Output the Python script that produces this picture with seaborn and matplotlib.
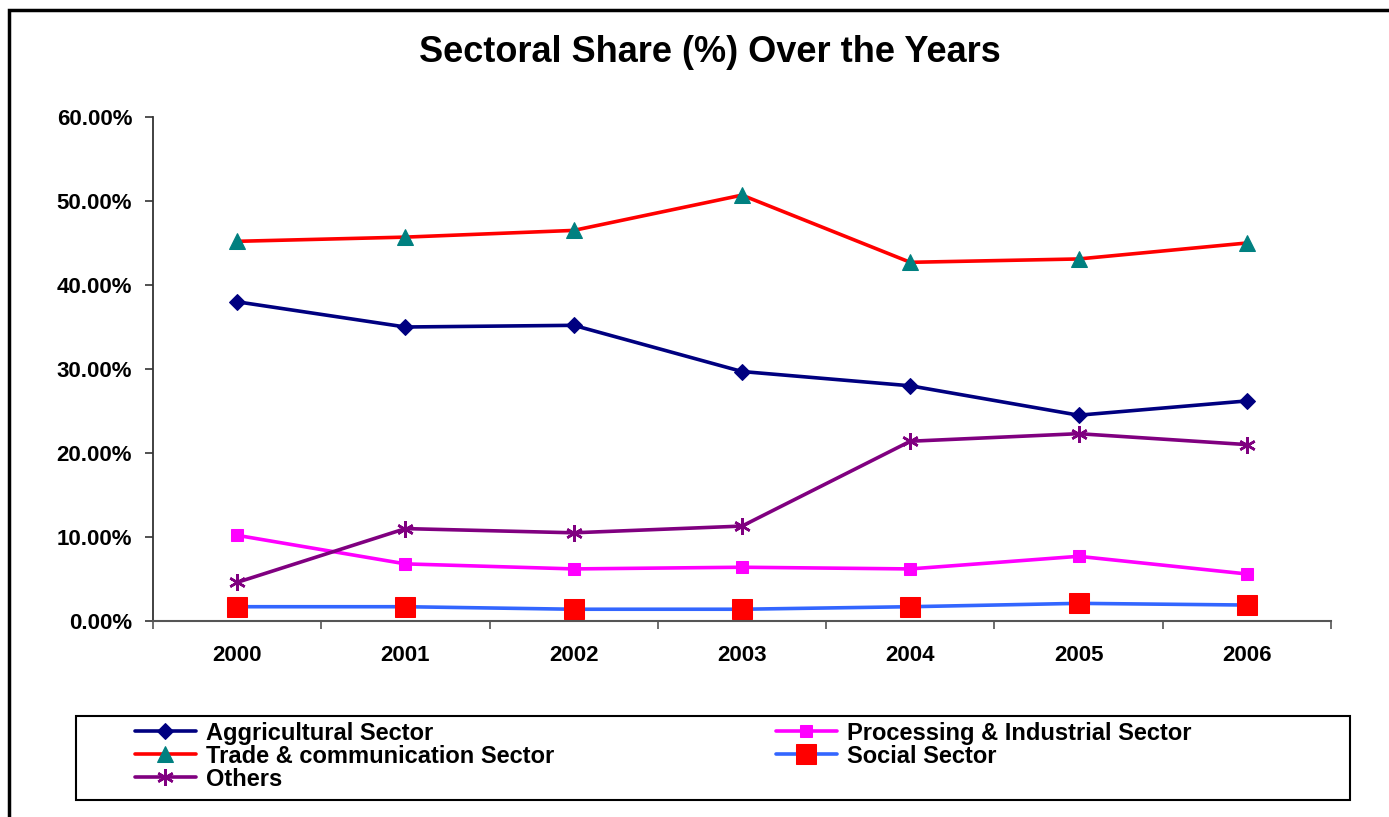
import seaborn as sns
import numpy as np
import matplotlib.pyplot as plt
from matplotlib.ticker import PercentFormatter, FixedLocator, NullFormatter
from matplotlib.patches import Rectangle

years = [2000, 2001, 2002, 2003, 2004, 2005, 2006]
agri = [38.0, 35.0, 35.2, 29.7, 28.0, 24.5, 26.2]
processing = [10.2, 6.8, 6.2, 6.4, 6.2, 7.7, 5.6]
trade = [45.2, 45.7, 46.5, 50.7, 42.7, 43.1, 45.0]
social = [1.7, 1.7, 1.4, 1.4, 1.7, 2.1, 1.9]
others = [4.6, 11.0, 10.5, 11.3, 21.4, 22.3, 21.0]

labels = ["Aggricultural Sector", "Processing & Industrial Sector",
          "Trade & communication Sector", "Social Sector", "Others"]

sns.set_style("white")
plt.rcParams['font.family'] = ['Liberation Sans', 'DejaVu Sans']
plt.rcParams['font.weight'] = 'bold'
plt.rcParams['text.color'] = 'black'
plt.rcParams['xtick.color'] = 'black'
plt.rcParams['ytick.color'] = 'black'

fig = plt.figure(figsize=(13.89, 8.17), dpi=100)
ax = fig.add_axes([153/1389, 1 - 621/817, (1331 - 153)/1389, (621 - 117)/817])

lw = 2.6
sns.lineplot(x=years, y=agri, ax=ax, color='#000080', lw=lw, marker='D', markersize=8,
             markerfacecolor='#000080', markeredgecolor='#000080', label=labels[0])
sns.lineplot(x=years, y=processing, ax=ax, color='#FF00FF', lw=lw, marker='s', markersize=9,
             markerfacecolor='#FF00FF', markeredgecolor='#FF00FF', label=labels[1])
sns.lineplot(x=years, y=trade, ax=ax, color='#FF0000', lw=lw, marker='^', markersize=11,
             markerfacecolor='#008080', markeredgecolor='#008080', label=labels[2])
sns.lineplot(x=years, y=social, ax=ax, color='#3366FF', lw=lw, marker='s', markersize=14,
             markerfacecolor='#FF0000', markeredgecolor='#FF0000', label=labels[3])
sns.lineplot(x=years, y=others, ax=ax, color='#800080', lw=lw, marker=(6, 2, 0), markersize=12,
             markeredgewidth=1.8, markeredgecolor='#800080', label=labels[4])

ax.set_xlim(years[0] - 0.5, years[-1] + 0.5)
ax.set_ylim(0, 60)
ax.yaxis.set_major_locator(FixedLocator([0, 10, 20, 30, 40, 50, 60]))
ax.yaxis.set_major_formatter(PercentFormatter(xmax=100, decimals=2))
ax.xaxis.set_major_locator(FixedLocator([y - 0.5 for y in years] + [years[-1] + 0.5]))
ax.xaxis.set_major_formatter(NullFormatter())
ax.xaxis.set_minor_locator(FixedLocator(years))
ax.set_xticklabels([str(y) for y in years], minor=True)
ax.tick_params(axis='x', which='major', direction='out', length=6, width=1.2, color='#555555', bottom=True)
ax.tick_params(axis='x', which='minor', length=0, pad=17, labelsize=16)
ax.tick_params(axis='y', which='major', direction='out', length=6, width=1.2, color='#333333', left=True,
               pad=9, labelsize=16)
for lab in ax.get_xticklabels(minor=True) + ax.get_yticklabels():
    lab.set_fontweight('bold')

sns.despine(ax=ax)
ax.spines['left'].set_color('#333333')
ax.spines['bottom'].set_color('#555555')
ax.spines['left'].set_linewidth(1.3)
ax.spines['bottom'].set_linewidth(1.5)
ax.set_xlabel('')
ax.set_ylabel('')

fig.text(710/1389, 1 - 52/817, "Sectoral Share (%) Over the Years", ha='center', va='center',
         fontsize=26, fontweight='bold')

handles, hl = ax.get_legend_handles_labels()
ax.get_legend().remove()
order = [0, 2, 4, 1, 3]
fig.legend([handles[i] for i in order], [hl[i] for i in order],
           loc='upper left', bbox_to_anchor=(130/1389, 1 - 717/817),
           ncol=2, frameon=False, handlelength=2.6, columnspacing=9.4,
           handletextpad=0.4, labelspacing=0.0, borderpad=0.2, borderaxespad=0,
           prop={'weight': 'bold', 'size': 17})

fig.patches.append(Rectangle((76/1389, 1 - 800/817), (1350 - 76)/1389, 84/817,
                             transform=fig.transFigure, fill=False, edgecolor='black', lw=1.5))
fig.patches.append(Rectangle((9/1389, -0.1), 1.2, 1.1 - 10/817,
                             transform=fig.transFigure, fill=False, edgecolor='black', lw=2.5))

plt.savefig("out.png", dpi=100)
